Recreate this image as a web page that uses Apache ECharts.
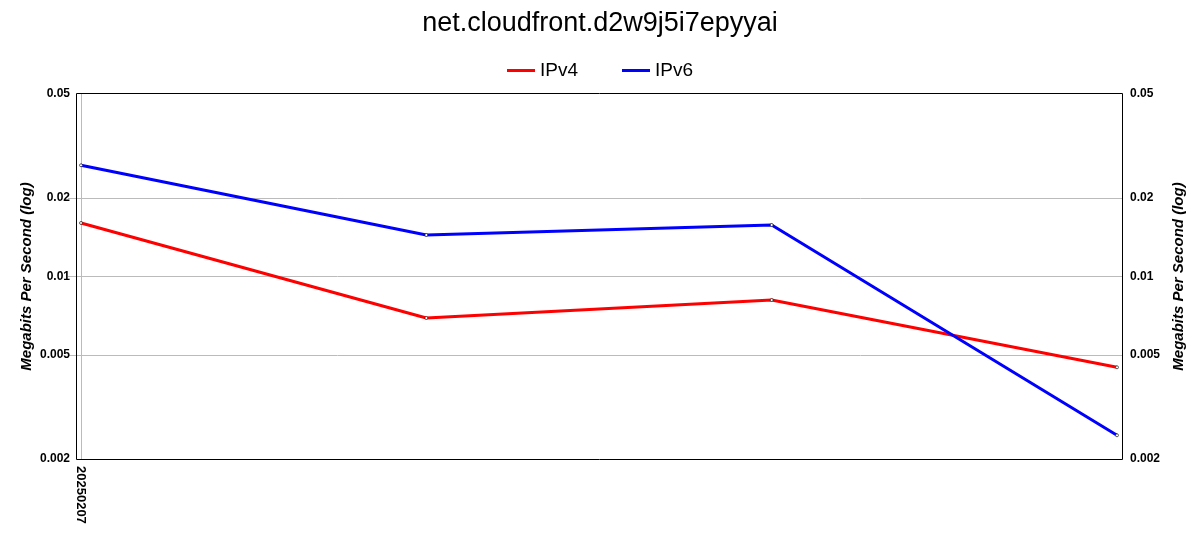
<!DOCTYPE html>
<html><head><meta charset="utf-8">
<script src="https://cdn.jsdelivr.net/npm/echarts@6/dist/echarts.min.js"></script>
<style>html,body{margin:0;padding:0;background:#fff}#c{width:1200px;height:550px}</style>
</head><body><div id="c"></div>
<script>
const title = 'net.cloudfront.d2w9j5i7epyyai';
const categories = ['20250207', '20250208', '20250209', '20250210'];
const ipv4 = [0.01603, 0.006936, 0.008128, 0.00449];
const ipv6 = [0.02667, 0.01442, 0.01575, 0.002465];
const yTicks = [0.002, 0.005, 0.01, 0.02, 0.05];
const yGridLines = [0.005, 0.01, 0.02];
const yMin = 0.002, yMax = 0.05;
const yName = 'Megabits Per Second (log)';

const FONT = 'Liberation Sans';
const fmt = v => String(parseFloat(Number(v).toPrecision(6)));
const yLabel = {customValues: yTicks, formatter: fmt, color: '#000', fontFamily: FONT, fontWeight: 'bold', fontSize: 12};
const yNameStyle = {color: '#000', fontFamily: FONT, fontWeight: 'bold', fontStyle: 'italic', fontSize: 15};

const chart = echarts.init(document.getElementById('c'), null, {renderer: 'canvas'});
chart.setOption({
  backgroundColor: '#fff',
  animation: false,
  title: {text: title, left: 'center', top: 5, textStyle: {fontFamily: FONT, fontWeight: 'normal', fontSize: 27, color: '#000'}},
  legend: {
    top: 56, left: 'center', itemWidth: 28, itemHeight: 3, itemGap: 44,
    textStyle: {fontFamily: FONT, fontSize: 19, color: '#000'},
    data: [
      {name: 'IPv4', icon: 'rect', itemStyle: {color: '#ff0000', borderWidth: 0}},
      {name: 'IPv6', icon: 'rect', itemStyle: {color: '#0000ff', borderWidth: 0}}
    ]
  },
  grid: [
    {left: 76, right: 78, top: 94, bottom: 91, containLabel: false},
    {left: 81, right: 83, top: 94, bottom: 91, containLabel: false},
    {left: 76.5, right: 77.5, top: 93.5, bottom: 90.5, z: 5, show: true, borderColor: '#000', borderWidth: 1, backgroundColor: 'transparent', containLabel: false}
  ],
  xAxis: [
    {gridIndex: 0, type: 'category', data: categories, show: false},
    {gridIndex: 1, type: 'category', data: categories, boundaryGap: false,
     axisLine: {show: false}, axisTick: {show: false},
     axisLabel: {rotate: -90, interval: (i) => i === 0, margin: 7, color: '#000', fontFamily: FONT, fontWeight: 'bold', fontSize: 13},
     splitLine: {show: true, interval: (i) => i === 0, lineStyle: {color: '#bbb', width: 1}}},
    {gridIndex: 2, type: 'category', data: categories, show: false}
  ],
  yAxis: [
    {gridIndex: 0, type: 'log', position: 'left', min: yMin, max: yMax,
     name: yName, nameLocation: 'middle', nameRotate: 90, nameGap: 42, nameMoveOverlap: false, nameTextStyle: yNameStyle,
     axisLine: {show: false},
     axisTick: {show: true, customValues: yGridLines, length: 8, lineStyle: {color: '#bbb'}},
     axisLabel: Object.assign({margin: 6}, yLabel),
     splitLine: {show: true, customValues: yGridLines, lineStyle: {color: '#bbb', width: 1}}},
    {gridIndex: 0, type: 'log', position: 'right', min: yMin, max: yMax,
     name: yName, nameLocation: 'middle', nameRotate: 90, nameGap: 48, nameTextStyle: yNameStyle,
     axisLine: {show: false},
     axisTick: {show: false, customValues: yTicks},
     axisLabel: Object.assign({margin: 8}, yLabel),
     splitLine: {show: false}},
    {gridIndex: 1, type: 'log', min: yMin, max: yMax, show: false},
    {gridIndex: 2, type: 'log', min: yMin, max: yMax, show: false}
  ],
  series: [
    {name: 'IPv4', type: 'line', xAxisIndex: 1, yAxisIndex: 2, data: ipv4,
     color: '#ff0000', lineStyle: {width: 3, color: '#ff0000'},
     symbol: 'circle', symbolSize: 3, itemStyle: {color: '#fff', borderColor: '#000', borderWidth: 0.6}},
    {name: 'IPv6', type: 'line', xAxisIndex: 1, yAxisIndex: 2, data: ipv6,
     color: '#0000ff', lineStyle: {width: 3, color: '#0000ff'},
     symbol: 'circle', symbolSize: 3, itemStyle: {color: '#fff', borderColor: '#000', borderWidth: 0.6}}
  ]
});
</script></body></html>
